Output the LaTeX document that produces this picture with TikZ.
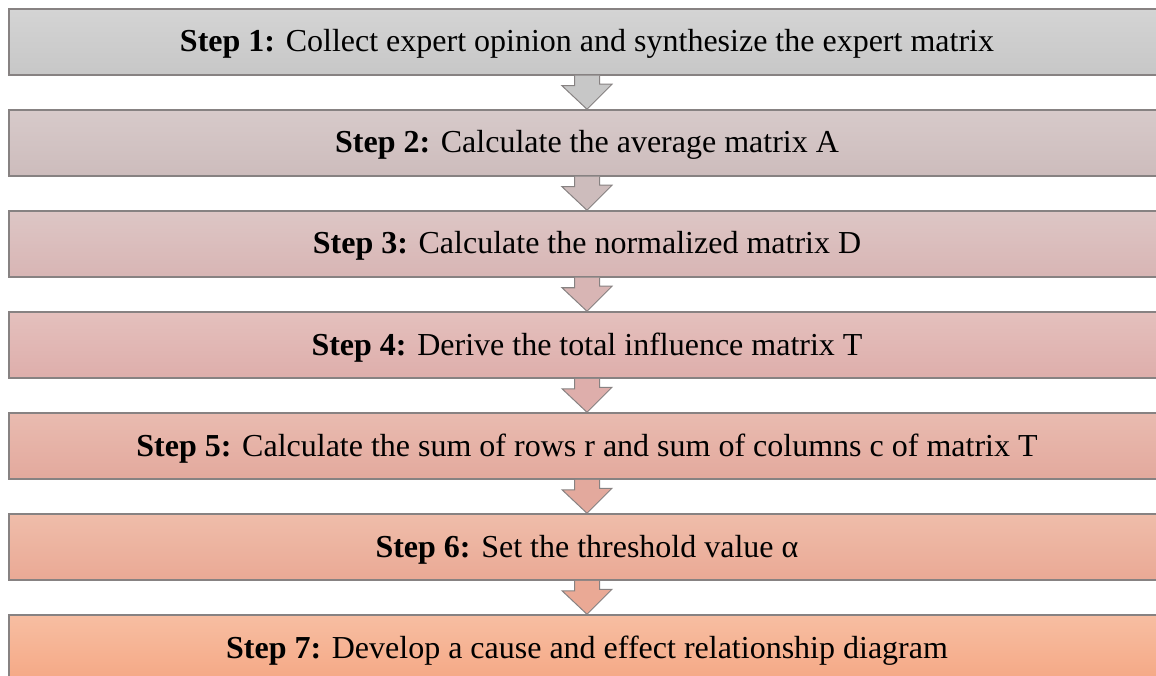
\documentclass[tikz,border=0pt]{standalone}
\usepackage{fontspec}
\setmainfont{Liberation Serif}
\usetikzlibrary{calc}

\definecolor{stepAt}{RGB}{212,212,212}
\definecolor{stepAb}{RGB}{199,199,199}
\definecolor{stepBt}{RGB}{215,202,202}
\definecolor{stepBb}{RGB}{205,188,188}
\definecolor{stepCt}{RGB}{221,198,197}
\definecolor{stepCb}{RGB}{216,181,180}
\definecolor{stepDt}{RGB}{228,192,189}
\definecolor{stepDb}{RGB}{222,174,171}
\definecolor{stepEt}{RGB}{233,187,176}
\definecolor{stepEb}{RGB}{227,169,157}
\definecolor{stepFt}{RGB}{239,189,170}
\definecolor{stepFb}{RGB}{234,169,149}
\definecolor{stepGt}{RGB}{247,190,162}
\definecolor{stepGb}{RGB}{245,168,133}
\definecolor{rimgray}{RGB}{135,130,130}

\begin{document}
\begin{tikzpicture}[
        x=1pt, y=-1pt,
        stepbox/.style={draw=rimgray, line width=1.5pt, rectangle,
            minimum width=1156pt, minimum height=66pt, inner sep=0pt,
            text height=20pt, text depth=0pt,
            font=\fontsize{32}{38}\selectfont},
        downarrow/.style={draw=rimgray, line width=1pt, line join=miter},
        ]
    \useasboundingbox (0,0) rectangle (1156,676);
    \clip (0,0) rectangle (1156,676);

    \node[stepbox, top color=stepAt, bottom color=stepAb] (step1) at (587,42)
        {\textbf{Step 1:} Collect expert opinion and synthesize the expert matrix};
    \node[stepbox, top color=stepBt, bottom color=stepBb] (step2) at (587,143)
        {\textbf{Step 2:} Calculate the average matrix A};
    \node[stepbox, top color=stepCt, bottom color=stepCb] (step3) at (587,244)
        {\textbf{Step 3:} Calculate the normalized matrix D};
    \node[stepbox, top color=stepDt, bottom color=stepDb] (step4) at (587,345)
        {\textbf{Step 4:} Derive the total influence matrix T};
    \node[stepbox, top color=stepEt, bottom color=stepEb] (step5) at (587,446)
        {\textbf{Step 5:} Calculate the sum of rows r and sum of columns c of matrix T};
    \node[stepbox, top color=stepFt, bottom color=stepFb] (step6) at (587,547)
        {\textbf{Step 6:} Set the threshold value α};
    \node[stepbox, top color=stepGt, bottom color=stepGb] (step7) at (587,648)
        {\textbf{Step 7:} Develop a cause and effect relationship diagram};

    % block arrows between the steps
    \foreach \a/\b/\col in {1/2/stepAb, 2/3/stepBb, 3/4/stepCb,
                            4/5/stepDb, 5/6/stepEb, 6/7/stepFb} {
        \filldraw[downarrow, fill=\col]
            ($(step\a.south)+(-12.5,0)$) -- ++(0,10) -- ++(-12.5,0)
            -- (step\b.north) -- ++(25,-25) -- ++(-12.5,0)
            -- ($(step\a.south)+(12.5,0)$);
    }
\end{tikzpicture}
\end{document}
